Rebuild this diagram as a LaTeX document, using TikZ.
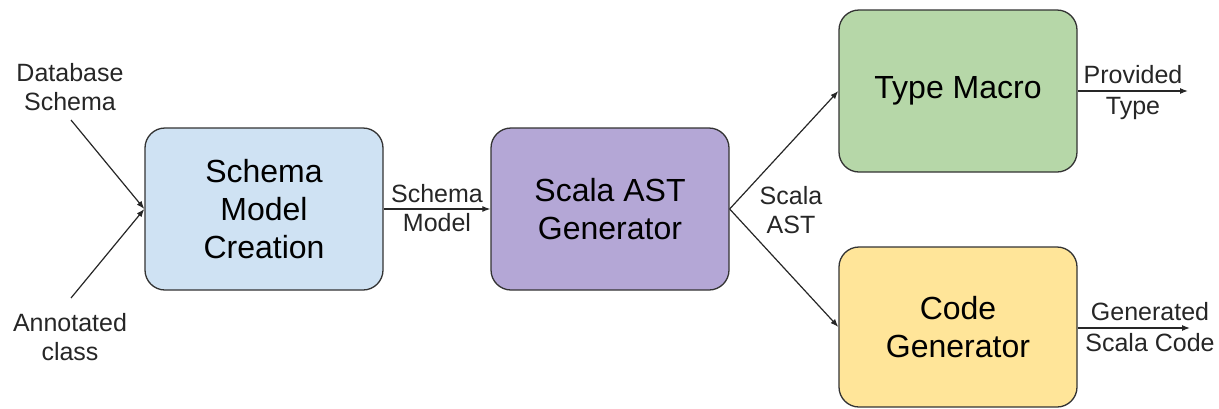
\documentclass[tikz,border=0pt]{standalone}
\usepackage{fontspec}
\setmainfont{Liberation Sans}
\usetikzlibrary{arrows.meta}
\definecolor{cblue}{HTML}{CFE2F3}
\definecolor{cpurple}{HTML}{B4A7D6}
\definecolor{cgreen}{HTML}{B6D7A8}
\definecolor{cyellow}{HTML}{FFE599}
\definecolor{cedge}{HTML}{333333}
\tikzset{
  procbox/.style={draw=cedge, line width=1.3pt, rounded corners=20pt, minimum width=238pt, minimum height=162pt, align=center, inner sep=0pt, font=\fontsize{32}{38}\selectfont, text=black},
  lbl/.style={align=center, inner sep=0pt, font=\fontsize{25}{29}\selectfont, text=black!85},
  conn/.style={draw=black!85, line width=1.2pt, -{Latex[length=8pt,width=6pt]}}
}
\begin{document}
\begin{tikzpicture}[x=1pt,y=-1pt]
\useasboundingbox (0,0) rectangle (1219,408);
\node[procbox, fill=cblue] (smc) at (264,209) {Schema\\Model\\Creation};
\node[procbox, fill=cpurple] (gen) at (610,209) {Scala AST\\Generator};
\node[procbox, fill=cgreen] (tm) at (958,91) {Type Macro};
\node[procbox, fill=cyellow, minimum height=160pt] (cg) at (958,327) {Code\\Generator};
\node[lbl] (db) at (70,87) {Database\\Schema};
\node[lbl] (ac) at (70,337) {Annotated\\class};
\coordinate (dbend) at (71,120);
\coordinate (acend) at (71,298);
\draw[conn] (dbend) -- (smc.west);
\draw[conn] (acend) -- (smc.west);
\node[lbl] (sm) at (437,208) {Schema\\Model};
\draw[conn] (smc.east) -- (gen.west);
\node[lbl] (sa) at (791,210) {Scala\\AST};
\draw[conn] (gen.east) -- (tm.west);
\draw[conn] (gen.east) -- (cg.west);
\coordinate (ptend) at (1188,91);
\coordinate (gsend) at (1190,328);
\node[lbl, font=\fontsize{25}{31}\selectfont] (pt) at (1133,92.5) {Provided\\Type};
\node[lbl, font=\fontsize{25}{31}\selectfont] (gs) at (1150,327) {Generated\\Scala Code};
\draw[conn] (tm.east) -- (ptend);
\draw[conn] (cg.east |- gsend) -- (gsend);
\end{tikzpicture}
\end{document}
